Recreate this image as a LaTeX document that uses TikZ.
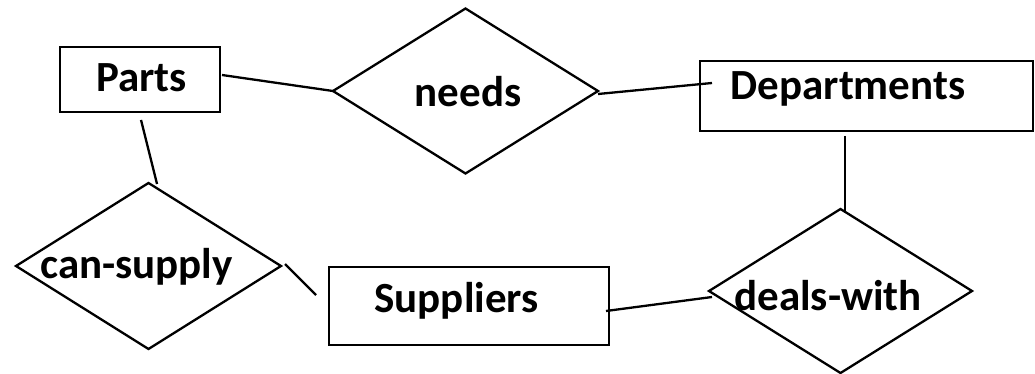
\documentclass[tikz,border=0pt]{standalone}
\usepackage{fontspec}
\setmainfont{Carlito}
\usetikzlibrary{shapes.geometric,calc}

\begin{document}
\begin{tikzpicture}[x=1pt,y=-1pt,line width=2.3pt,
  entity/.style={draw,rectangle,inner sep=0pt,outer sep=0pt},
  relation/.style={draw,diamond,inner sep=0pt,outer sep=0pt},
  lbl/.style={font=\fontsize{43}{50}\selectfont\bfseries,anchor=base,inner sep=0pt}]
\path[use as bounding box] (0,0) rectangle (1035,374);

% entity sets
\node[entity,minimum width=160pt,minimum height=65pt] (parts) at (140,79.5) {};
\node[entity,minimum width=333pt,minimum height=70pt] (depts) at (866.5,96) {};
\node[entity,minimum width=280pt,minimum height=78pt] (supp) at (469,306) {};

% relationship sets
\node[relation,minimum width=265pt,minimum height=165pt] (needs) at (465.5,91) {};
\node[relation,minimum width=265pt,minimum height=166pt] (cansupply) at (148.5,266) {};
\node[relation,minimum width=263pt,minimum height=164pt] (dealswith) at (840.5,291) {};

% labels
\node[lbl] (tparts) at (141.5,92) {Parts};
\node[lbl] (tdepts) at (848,100) {Departments};
\node[lbl] (tsupp) at (456.5,312) {Suppliers};
\node[lbl] (tneeds) at (468,107) {needs};
\node[lbl] (tcan) at (136.5,278) {can-supply};
\node[lbl] (tdeals) at (828,310) {deals-with};

% connector end points
\coordinate (a1) at ($(parts.east)+(2,-4.5)$);
\coordinate (b1) at ($(needs.east)+(0,3)$);
\coordinate (b2) at (712,83);
\coordinate (c1) at (845,136);
\coordinate (c2) at (845,213);
\coordinate (d1) at (606,311);
\coordinate (d2) at (712,297);
\coordinate (e1) at (141,120);
\coordinate (e2) at (157,184);
\coordinate (f1) at (285,264);
\coordinate (f2) at (316,295);

% connectors
\draw (a1) -- (needs.west);
\draw (b1) -- (b2);
\draw (c1) -- (c2);
\draw (d1) -- (d2);
\draw (e1) -- (e2);
\draw (f1) -- (f2);
\end{tikzpicture}
\end{document}
